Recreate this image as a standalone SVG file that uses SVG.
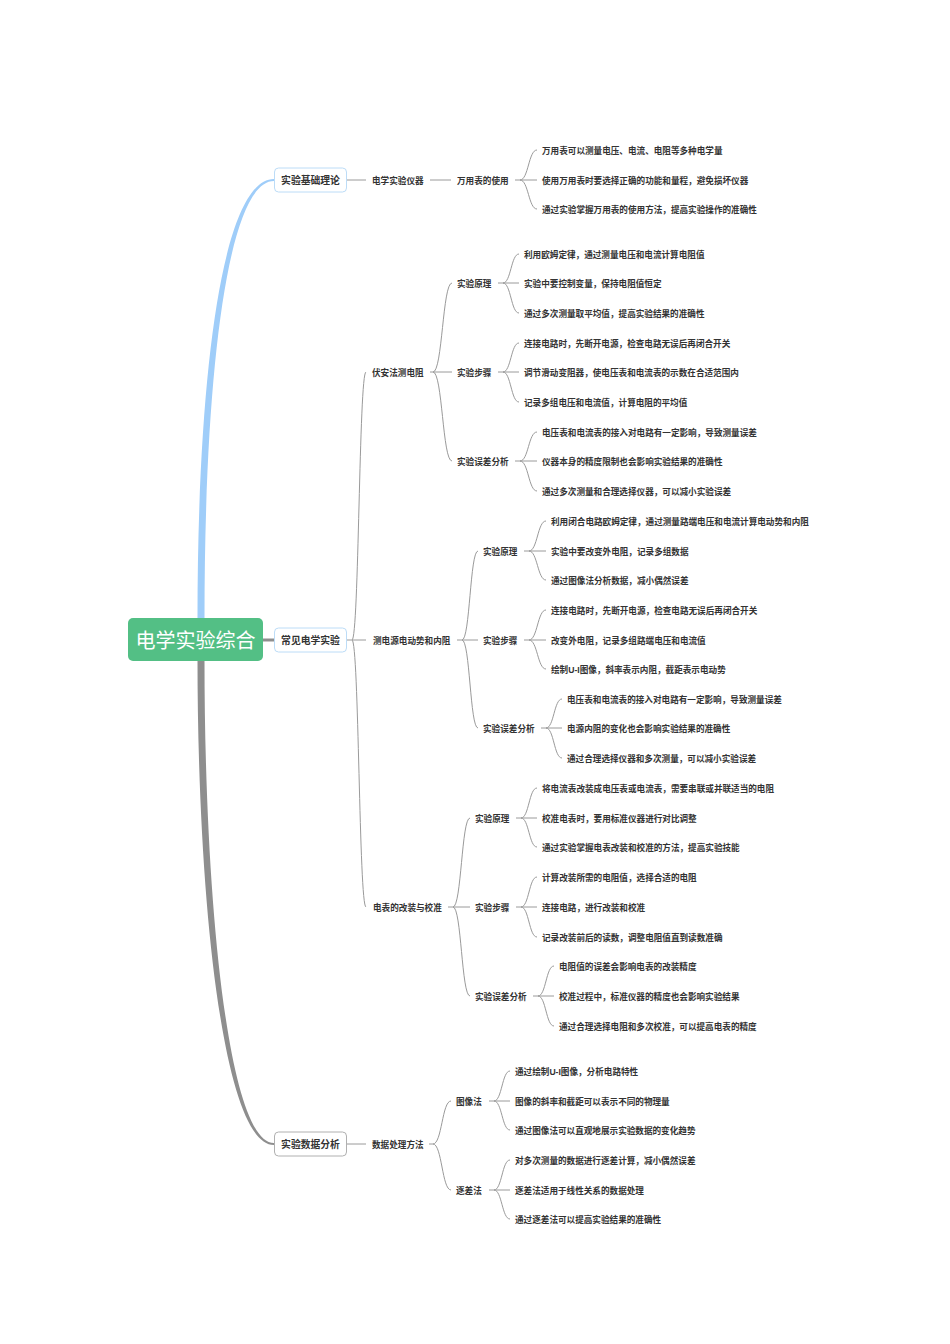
<svg xmlns="http://www.w3.org/2000/svg" width="950" height="1344" viewBox="0 0 950 1344">
<style>
text{font-family:"Liberation Sans","Noto Sans CJK SC",sans-serif;fill:#333;dominant-baseline:central;transform:translateY(0.8px)}
.t{font-size:8.6px;font-weight:bold}
.b{font-size:9.8px;font-weight:bold}
.r{font-size:20px;fill:#fff}
.c{fill:none;stroke:#9a9a9a;stroke-width:1}
.box{fill:#fff;stroke:#bcdcf7;stroke-width:1}
.boxg{fill:#fff;stroke:#b0b0b0;stroke-width:1}
</style>
<rect width="950" height="1344" fill="#fff"/>
<g id="connectors">
<path d="M197.5 618 C197.5 370 223 179 274 179 L274 181 C228 181 204.5 370 204.5 618 Z" fill="#9fcdf9"/>
<path d="M197.5 660 C197.5 900 223 1145 274 1145 L274 1143 C228 1143 204.5 900 204.5 660 Z" fill="#8e8e8e"/>
<path d="M262 640 H274" stroke="#8e8e8e" stroke-width="3"/>
<g class="c">
<path d="M346 180 H366 M430 180 H451"/>
<path d="M520 180 C528.5 180 528.5 150 537 150 M520 180 C528.5 180 528.5 209 537 209 M515 180 H537"/>
<path d="M352 640 C359 640 359 372 366 372 M352 640 C359 640 359 907 366 907 M347 640 H366"/>
<path d="M433 372 C442.5 372 442.5 283 452 283 M433 372 C442.5 372 442.5 461 452 461 M430 372 H452"/>
<path d="M503 283 C511 283 511 254 519 254 M503 283 C511 283 511 313 519 313 M498 283 H519"/>
<path d="M503 372 C511 372 511 343 519 343 M503 372 C511 372 511 402 519 402 M498 372 H519"/>
<path d="M520 461 C528.5 461 528.5 432 537 432 M520 461 C528.5 461 528.5 491 537 491 M515 461 H537"/>
<path d="M462 640 C470 640 470 551 478 551 M462 640 C470 640 470 728 478 728 M457 640 H478"/>
<path d="M529 551 C537.5 551 537.5 521 546 521 M529 551 C537.5 551 537.5 580 546 580 M524 551 H546"/>
<path d="M529 640 C537.5 640 537.5 610 546 610 M529 640 C537.5 640 537.5 669 546 669 M524 640 H546"/>
<path d="M546 728 C554 728 554 699 562 699 M546 728 C554 728 554 758 562 758 M541 728 H562"/>
<path d="M453 907 C461.5 907 461.5 818 470 818 M453 907 C461.5 907 461.5 996 470 996 M448 907 H470"/>
<path d="M521 818 C529 818 529 788 537 788 M521 818 C529 818 529 847 537 847 M516 818 H537"/>
<path d="M521 907 C529 907 529 877 537 877 M521 907 C529 907 529 937 537 937 M516 907 H537"/>
<path d="M538 996 C546 996 546 966 554 966 M538 996 C546 996 546 1026 554 1026 M533 996 H554"/>
<path d="M346 1144 H366"/>
<path d="M433 1144 C442 1144 442 1101 451 1101 M433 1144 C442 1144 442 1190 451 1190 M429 1144 H433"/>
<path d="M494 1101 C502 1101 502 1071 510 1071 M494 1101 C502 1101 502 1130 510 1130 M489 1101 H510"/>
<path d="M494 1190 C502 1190 502 1160 510 1160 M494 1190 C502 1190 502 1219 510 1219 M489 1190 H510"/>
</g>
</g>
<g id="root"><rect x="128" y="618" width="135" height="43" rx="5" fill="#53bf85"/><text class="r" x="195.5" y="640" text-anchor="middle">电学实验综合</text></g>
<g id="n1"><rect class="box" x="274.5" y="168" width="72" height="24" rx="4"/><text class="b" x="310.5" y="180" text-anchor="middle">实验基础理论</text></g>
<g id="n1-1"><text class="t" x="372" y="180">电学实验仪器</text></g>
<g id="n1-1-1"><text class="t" x="457" y="180">万用表的使用</text></g>
<g id="n1-1-1-l"><text class="t" x="542" y="150">万用表可以测量电压、电流、电阻等多种电学量</text><text class="t" x="542" y="180">使用万用表时要选择正确的功能和量程，避免损坏仪器</text><text class="t" x="542" y="209">通过实验掌握万用表的使用方法，提高实验操作的准确性</text></g>
<g id="n2"><rect class="box" x="274.5" y="628" width="72" height="24" rx="4"/><text class="b" x="310.5" y="640" text-anchor="middle">常见电学实验</text></g>
<g id="n2-1"><text class="t" x="372" y="372">伏安法测电阻</text></g>
<g id="n2-1-1"><text class="t" x="457" y="283">实验原理</text><text class="t" x="524" y="254">利用欧姆定律，通过测量电压和电流计算电阻值</text><text class="t" x="524" y="283">实验中要控制变量，保持电阻值恒定</text><text class="t" x="524" y="313">通过多次测量取平均值，提高实验结果的准确性</text></g>
<g id="n2-1-2"><text class="t" x="457" y="372">实验步骤</text><text class="t" x="524" y="343">连接电路时，先断开电源，检查电路无误后再闭合开关</text><text class="t" x="524" y="372">调节滑动变阻器，使电压表和电流表的示数在合适范围内</text><text class="t" x="524" y="402">记录多组电压和电流值，计算电阻的平均值</text></g>
<g id="n2-1-3"><text class="t" x="457" y="461">实验误差分析</text><text class="t" x="542" y="432">电压表和电流表的接入对电路有一定影响，导致测量误差</text><text class="t" x="542" y="461">仪器本身的精度限制也会影响实验结果的准确性</text><text class="t" x="542" y="491">通过多次测量和合理选择仪器，可以减小实验误差</text></g>
<g id="n2-2"><text class="t" x="373" y="640">测电源电动势和内阻</text></g>
<g id="n2-2-1"><text class="t" x="483" y="551">实验原理</text><text class="t" x="551" y="521">利用闭合电路欧姆定律，通过测量路端电压和电流计算电动势和内阻</text><text class="t" x="551" y="551">实验中要改变外电阻，记录多组数据</text><text class="t" x="551" y="580">通过图像法分析数据，减小偶然误差</text></g>
<g id="n2-2-2"><text class="t" x="483" y="640">实验步骤</text><text class="t" x="551" y="610">连接电路时，先断开电源，检查电路无误后再闭合开关</text><text class="t" x="551" y="640">改变外电阻，记录多组路端电压和电流值</text><text class="t" x="551" y="669">绘制U-I图像，斜率表示内阻，截距表示电动势</text></g>
<g id="n2-2-3"><text class="t" x="483" y="728">实验误差分析</text><text class="t" x="567" y="699">电压表和电流表的接入对电路有一定影响，导致测量误差</text><text class="t" x="567" y="728">电源内阻的变化也会影响实验结果的准确性</text><text class="t" x="567" y="758">通过合理选择仪器和多次测量，可以减小实验误差</text></g>
<g id="n2-3"><text class="t" x="373" y="907">电表的改装与校准</text></g>
<g id="n2-3-1"><text class="t" x="475" y="818">实验原理</text><text class="t" x="542" y="788">将电流表改装成电压表或电流表，需要串联或并联适当的电阻</text><text class="t" x="542" y="818">校准电表时，要用标准仪器进行对比调整</text><text class="t" x="542" y="847">通过实验掌握电表改装和校准的方法，提高实验技能</text></g>
<g id="n2-3-2"><text class="t" x="475" y="907">实验步骤</text><text class="t" x="542" y="877">计算改装所需的电阻值，选择合适的电阻</text><text class="t" x="542" y="907">连接电路，进行改装和校准</text><text class="t" x="542" y="937">记录改装前后的读数，调整电阻值直到读数准确</text></g>
<g id="n2-3-3"><text class="t" x="475" y="996">实验误差分析</text><text class="t" x="559" y="966">电阻值的误差会影响电表的改装精度</text><text class="t" x="559" y="996">校准过程中，标准仪器的精度也会影响实验结果</text><text class="t" x="559" y="1026">通过合理选择电阻和多次校准，可以提高电表的精度</text></g>
<g id="n3"><rect class="boxg" x="274.5" y="1132" width="72" height="24" rx="4"/><text class="b" x="310.5" y="1144" text-anchor="middle">实验数据分析</text></g>
<g id="n3-1"><text class="t" x="372" y="1144">数据处理方法</text></g>
<g id="n3-1-1"><text class="t" x="456" y="1101">图像法</text><text class="t" x="515" y="1071">通过绘制U-I图像，分析电路特性</text><text class="t" x="515" y="1101">图像的斜率和截距可以表示不同的物理量</text><text class="t" x="515" y="1130">通过图像法可以直观地展示实验数据的变化趋势</text></g>
<g id="n3-1-2"><text class="t" x="456" y="1190">逐差法</text><text class="t" x="515" y="1160">对多次测量的数据进行逐差计算，减小偶然误差</text><text class="t" x="515" y="1190">逐差法适用于线性关系的数据处理</text><text class="t" x="515" y="1219">通过逐差法可以提高实验结果的准确性</text></g>
</svg>
